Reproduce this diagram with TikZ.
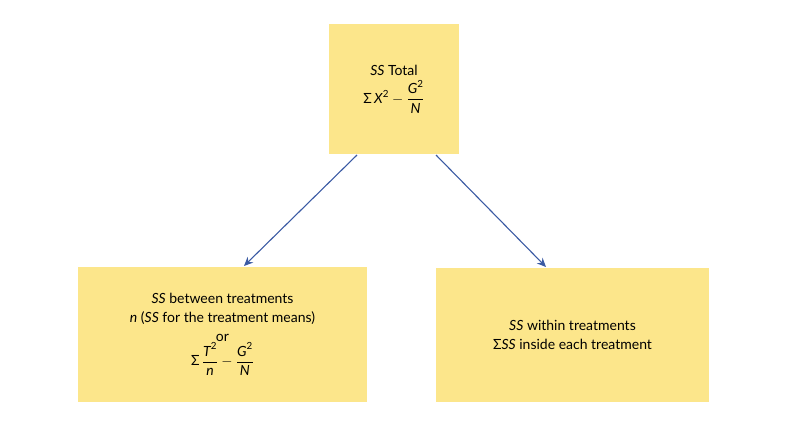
\documentclass[tikz,border=0pt]{standalone}
\usepackage{amsmath}
\usepackage{fontspec}
\setmainfont{Lato}
\usetikzlibrary{arrows.meta}
\newcommand{\mi}[1]{\text{\itshape #1}}
\newcommand{\Sg}{\text{Σ}}
\begin{document}
\begin{tikzpicture}[x=1pt,y=-1pt,
  box/.style={fill=boxy,draw=none,inner sep=0pt,align=center,font=\fontsize{14}{19}\selectfont},
  arr/.style={draw=arrc,line width=1.1pt,-{Stealth[length=9pt,width=8pt]}}]
\definecolor{boxy}{HTML}{FCE68B}
\definecolor{arrc}{HTML}{3A5AA3}
\useasboundingbox (0,0) rectangle (806,434);
\node[box,minimum width=130pt,minimum height=130pt] (t) at (394,89)
  {\textit{SS} Total\\[4pt] $\Sg\,\mi{X}^{\text{2}} - \dfrac{\mi{G}^{\text{2}}}{\mi{N}}$};
\node[box,minimum width=289pt,minimum height=135pt] (l) at (222.5,334.5)
  {\textit{SS} between treatments\\ \textit{n} (\textit{SS} for the treatment means)\\ or\\ $\Sg\,\dfrac{\mi{T}^{\text{2}}}{\mi{n}} - \dfrac{\mi{G}^{\text{2}}}{\mi{N}}$};
\node[box,minimum width=273pt,minimum height=134pt] (r) at (572.5,335)
  {\textit{SS} within treatments\\ Σ\textit{SS} inside each treatment};
\coordinate (a1) at (357,155); \coordinate (b1) at (244,266);
\coordinate (a2) at (436,155); \coordinate (b2) at (546,267);
\draw[arr] (a1) -- (b1);
\draw[arr] (a2) -- (b2);
\end{tikzpicture}
\end{document}
